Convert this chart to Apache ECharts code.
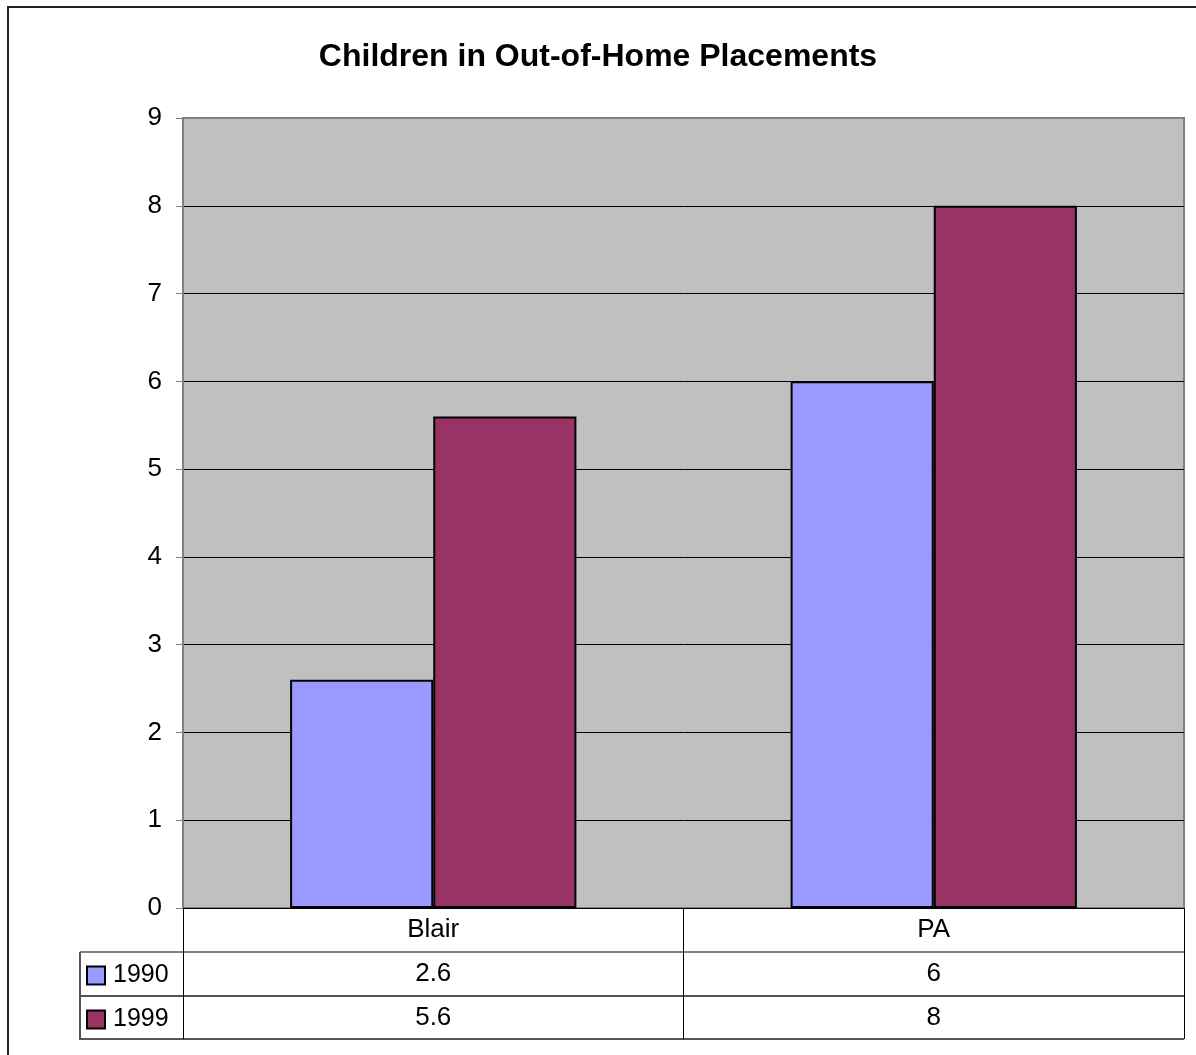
<!DOCTYPE html>
<html>
<head>
<meta charset="utf-8">
<script src="https://cdn.jsdelivr.net/npm/echarts@6/dist/echarts.min.js"></script>
<style>
html,body{margin:0;padding:0;background:#fff;}
#main{width:1196px;height:1055px;}
</style>
</head>
<body>
<div id="main"></div>
<script>
var titleText = 'Children in Out-of-Home Placements';
var categories = ['Blair', 'PA'];
var seriesNames = ['1990', '1999'];
var values1990 = [2.6, 6];
var values1999 = [5.6, 8];
var yTicks = [0, 1, 2, 3, 4, 5, 6, 7, 8, 9];

var FONT = 'Arial, "Liberation Sans", sans-serif';
var chart = echarts.init(document.getElementById('main'));

var G = {left: 183, top: 118, right: 12, bottom: 147};
var rowH = 44;

chart.setOption({
  animation: false,
  backgroundColor: '#ffffff',
  title: {
    text: titleText, left: 'center', top: 41, padding: 0,
    textStyle: {fontFamily: FONT, fontSize: 32, fontWeight: 'bold', color: '#000'}
  },
  legend: {
    orient: 'vertical', left: 86, top: 963, padding: 0,
    itemWidth: 18, itemHeight: 18, itemGap: 19,
    icon: 'rect',
    data: seriesNames,
    textStyle: {fontFamily: FONT, fontSize: 25, color: '#000', lineHeight: 18, height: 18, padding: [0, 0, 0, 3]}
  },
  grid: {
    left: G.left, top: G.top, right: G.right, bottom: G.bottom,
    show: true, backgroundColor: '#C0C0C0', borderColor: '#808080', borderWidth: 2
  },
  xAxis: {
    type: 'category', data: categories,
    axisLine: {show: true, lineStyle: {color: '#000', width: 1}},
    axisTick: {show: true, length: rowH * 3 - 1, lineStyle: {color: '#000', width: 1}},
    axisLabel: {
      margin: 0, interval: 0,
      formatter: function (v, i) {
        return '{h|' + v + '}\n{v|' + values1990[i] + '}\n{v|' + values1999[i] + '}';
      },
      rich: {
        h: {fontFamily: FONT, fontSize: 26, color: '#000', lineHeight: rowH, height: rowH},
        v: {fontFamily: FONT, fontSize: 26, color: '#000', lineHeight: rowH, height: rowH}
      }
    }
  },
  yAxis: {
    type: 'value', min: yTicks[0], max: yTicks[yTicks.length - 1], interval: 1,
    axisLine: {show: true, lineStyle: {color: '#808080', width: 2}},
    axisTick: {show: true, length: 7, lineStyle: {color: '#808080', width: 1}},
    axisLabel: {fontFamily: FONT, fontSize: 26, color: '#000', margin: 21},
    splitLine: {show: true, showMaxLine: false, showMinLine: false, lineStyle: {color: '#000', width: 1}}
  },
  series: [
    {
      name: seriesNames[0], type: 'bar', data: values1990,
      barWidth: '28.6%', barGap: '0%',
      itemStyle: {color: '#9999FF', borderColor: '#000', borderWidth: 2}
    },
    {
      name: seriesNames[1], type: 'bar', data: values1999,
      barWidth: '28.6%', barGap: '0%',
      itemStyle: {color: '#993366', borderColor: '#000', borderWidth: 2}
    }
  ]
});

// table lines and outer border
var bottomY = 1055 - G.bottom;
var rightX = 1196 - G.right;
var tableLeft = 80;
var lines = [];
for (var r = 1; r <= 3; r++) {
  var y = bottomY + r * rowH - (r === 3 ? 1 : 0);
  lines.push({type: 'line', shape: {x1: tableLeft, y1: y, x2: rightX, y2: y},
    style: {stroke: r === 1 ? '#000' : '#555', lineWidth: r === 1 ? 1 : 2}, silent: true});
}
lines.push({type: 'line', shape: {x1: tableLeft, y1: bottomY + rowH, x2: tableLeft, y2: bottomY + 3 * rowH},
  style: {stroke: '#555', lineWidth: 2}, silent: true});
lines.push({type: 'rect', shape: {x: 8, y: 7, width: 1400, height: 1400},
  style: {fill: 'none', stroke: '#222', lineWidth: 2}, silent: true});
chart.setOption({graphic: lines});
</script>
</body>
</html>
